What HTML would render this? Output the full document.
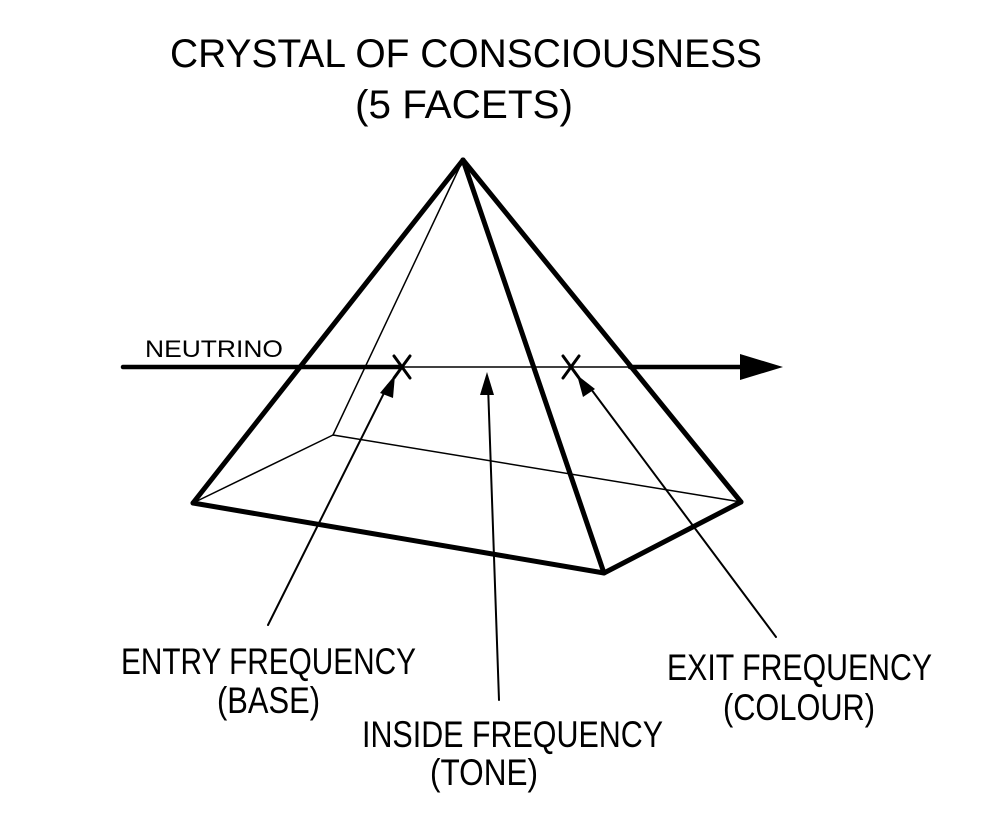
<!DOCTYPE html>
<html><head><meta charset="utf-8"><style>
html,body{margin:0;padding:0;background:#fff;}
svg{display:block;}
text{font-family:"Liberation Sans",sans-serif;fill:#000;}
</style></head><body>
<svg width="982" height="830" viewBox="0 0 982 830" xmlns="http://www.w3.org/2000/svg">
<text x="170" y="67" font-size="40" textLength="592" lengthAdjust="spacingAndGlyphs">CRYSTAL OF CONSCIOUSNESS</text>
<text x="355" y="118" font-size="40" textLength="218" lengthAdjust="spacingAndGlyphs">(5 FACETS)</text>
<g stroke="#000" fill="none" stroke-linecap="round" stroke-linejoin="round">
<line x1="463" y1="160" x2="333" y2="435" stroke-width="1.5"/>
<line x1="333" y1="435" x2="193" y2="503" stroke-width="1.5"/>
<line x1="333" y1="435" x2="741" y2="502" stroke-width="1.5"/>
<line x1="463" y1="160" x2="193" y2="503" stroke-width="5"/>
<line x1="463" y1="160" x2="604" y2="573" stroke-width="5"/>
<line x1="463" y1="160" x2="741" y2="502" stroke-width="5"/>
<polyline points="193,503 604,573 741,502" stroke-width="5"/>
<line x1="123" y1="367" x2="402" y2="367" stroke-width="4.5"/>
<line x1="402" y1="367" x2="630" y2="367" stroke-width="1.5"/>
<line x1="630" y1="367" x2="750" y2="367" stroke-width="4.5"/>
<path d="M394,356 L410,378 M410,356 L394,378" stroke-width="3"/>
<path d="M563,356 L579,378 M579,356 L563,378" stroke-width="3"/>
<line x1="268" y1="625" x2="388" y2="385" stroke-width="2"/>
<line x1="499" y1="700" x2="488" y2="385" stroke-width="2"/>
<line x1="776" y1="637" x2="588" y2="385" stroke-width="2"/>
</g>
<g fill="#000">
<polygon points="783,367 740,354 740,380"/>
<polygon points="395,375 380,393 393,398"/>
<polygon points="487,372 480,395 494,395"/>
<polygon points="577,375 583,397 595,389"/>
</g>
<text x="145" y="357" font-size="24" textLength="138" lengthAdjust="spacingAndGlyphs">NEUTRINO</text>
<text x="121" y="674" font-size="37" textLength="295" lengthAdjust="spacingAndGlyphs">ENTRY FREQUENCY</text>
<text x="217" y="713" font-size="37" textLength="103" lengthAdjust="spacingAndGlyphs">(BASE)</text>
<text x="362" y="747" font-size="37" textLength="301" lengthAdjust="spacingAndGlyphs">INSIDE FREQUENCY</text>
<text x="430" y="785" font-size="37" textLength="108" lengthAdjust="spacingAndGlyphs">(TONE)</text>
<text x="667" y="680" font-size="37" textLength="265" lengthAdjust="spacingAndGlyphs">EXIT FREQUENCY</text>
<text x="723" y="720" font-size="37" textLength="152" lengthAdjust="spacingAndGlyphs">(COLOUR)</text>
</svg>
</body></html>
